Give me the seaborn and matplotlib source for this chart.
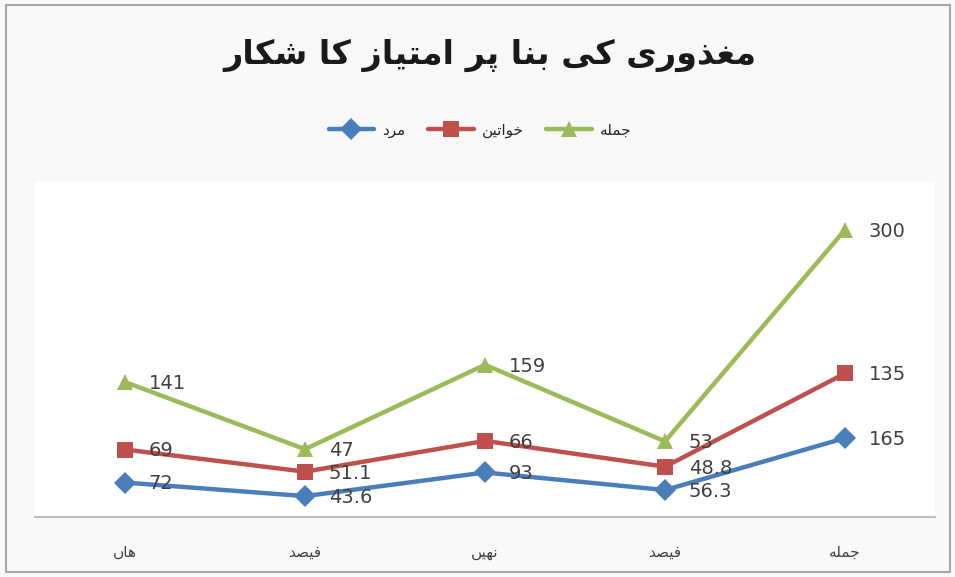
import numpy as np
import pandas as pd
import matplotlib
matplotlib.use("Agg")
import matplotlib.pyplot as plt
from matplotlib.patches import Rectangle
import seaborn as sns

# ---- data -------------------------------------------------------------
categories = ["ہاں", "فیصد", "نہیں", "فیصد", "جملہ"]
series_names = ["مرد", "خواتین", "جملہ"]
men = [72, 43.6, 93, 56.3, 165]
women = [69, 51.1, 66, 48.8, 135]
total = [141, 47, 159, 53, 300]
title = "مغذوری کی بنا پر امتیاز کا شکار"
colors = ["#4A7EBB", "#C0504D", "#9BBB59"]

# ---- Arabic-script shaping (contextual forms + right-to-left order) ----
# (isolated, final, initial, medial); heh goal uses the heh forms,
# which the installed fonts provide.
FORMS = {
    "ا": (0xFE8D, 0xFE8E, None, None),
    "ب": (0xFE8F, 0xFE90, 0xFE91, 0xFE92),
    "ت": (0xFE95, 0xFE96, 0xFE97, 0xFE98),
    "ج": (0xFE9D, 0xFE9E, 0xFE9F, 0xFEA0),
    "خ": (0xFEA5, 0xFEA6, 0xFEA7, 0xFEA8),
    "د": (0xFEA9, 0xFEAA, None, None),
    "ذ": (0xFEAB, 0xFEAC, None, None),
    "ر": (0xFEAD, 0xFEAE, None, None),
    "ز": (0xFEAF, 0xFEB0, None, None),
    "ش": (0xFEB5, 0xFEB6, 0xFEB7, 0xFEB8),
    "ص": (0xFEB9, 0xFEBA, 0xFEBB, 0xFEBC),
    "ع": (0xFEC9, 0xFECA, 0xFECB, 0xFECC),
    "غ": (0xFECD, 0xFECE, 0xFECF, 0xFED0),
    "ف": (0xFED1, 0xFED2, 0xFED3, 0xFED4),
    "ل": (0xFEDD, 0xFEDE, 0xFEDF, 0xFEE0),
    "م": (0xFEE1, 0xFEE2, 0xFEE3, 0xFEE4),
    "ن": (0xFEE5, 0xFEE6, 0xFEE7, 0xFEE8),
    "و": (0xFEED, 0xFEEE, None, None),
    "پ": (0xFB56, 0xFB57, 0xFB58, 0xFB59),
    "ک": (0xFB8E, 0xFB8F, 0xFB90, 0xFB91),
    "ں": (0xFB9E, 0xFB9F, None, None),
    "ہ": (0xFEE9, 0xFEEA, 0xFEEB, 0xFEEC),
    "ی": (0xFBFC, 0xFBFD, 0xFBFE, 0xFBFF),
}


def shape(text):
    out = []
    n = len(text)
    for i, ch in enumerate(text):
        f = FORMS.get(ch)
        if f is None:
            out.append(ch)
            continue
        prev = text[i - 1] if i > 0 else None
        nxt = text[i + 1] if i < n - 1 else None
        jp = prev in FORMS and FORMS[prev][2] is not None
        jn = f[2] is not None and nxt in FORMS
        if jp and jn:
            code = f[3]
        elif jp:
            code = f[1]
        elif jn:
            code = f[2]
        else:
            code = f[0]
        out.append(chr(code))
    return "".join(out)[::-1]


# ---- long-form table with stacked (cumulative) values ---------------
values = np.vstack([men, women, total])
stacked = np.cumsum(values, axis=0)
rows = []
for s, name in enumerate(series_names):
    for i in range(len(categories)):
        rows.append({"pos": i, "value": stacked[s, i], "label": values[s, i],
                     "series": shape(name)})
df = pd.DataFrame(rows)

sns.set_theme(style="white")
plt.rcParams["font.family"] = ["DejaVu Sans"]

fig = plt.figure(figsize=(9.55, 5.77), dpi=100)
fig.patch.set_facecolor("#F8F8F8")
fig.patches.append(Rectangle((6 / 955, 5 / 577), 944 / 955, 567 / 577,
                             transform=fig.transFigure, fill=False,
                             edgecolor="#A6A6A6", linewidth=1.5))

ax = fig.add_axes([35 / 955, 60 / 577, 900 / 955, 335 / 577])
ax.set_facecolor("white")

hue_order = [shape(n) for n in series_names]
sns.lineplot(data=df, x="pos", y="value", hue="series", style="series",
             hue_order=hue_order, style_order=hue_order,
             palette=colors, markers=["D", "s", "^"], dashes=False,
             linewidth=3.2, markersize=11, markeredgewidth=0,
             ax=ax, legend=True)

for s in range(len(series_names)):
    for i in range(len(categories)):
        ax.annotate(f"{values[s, i]:g}", (i, stacked[s, i]),
                    xytext=(17, -1), textcoords="offset points",
                    va="center", ha="left", fontsize=14, color="#404040")

ax.set_xlim(-0.5, 4.5)
ax.set_ylim(0, 700)
ax.set_xticks(range(len(categories)))
ax.set_xticklabels([shape(c) for c in categories], fontsize=11, color="#404040")
ax.tick_params(axis="x", length=0, pad=20)
ax.set_yticks([])
ax.set_xlabel("")
ax.set_ylabel("")
for side in ["left", "right", "top"]:
    ax.spines[side].set_visible(False)
ax.spines["bottom"].set_color("#BFBFBF")
ax.spines["bottom"].set_linewidth(1.5)

handles, labels = ax.get_legend_handles_labels()
ax.get_legend().remove()
fig.legend(handles, labels, loc="center", ncol=3,
           bbox_to_anchor=(480 / 955, 1 - 130 / 577), frameon=False,
           fontsize=11, handlelength=3, columnspacing=1.5, handletextpad=0.5)

fig.text(490 / 955, 1 - 55 / 577, shape(title), ha="center", va="center",
         fontsize=24, fontweight="bold", color="#1A1A1A")

fig.savefig("out.png", dpi=100, facecolor=fig.get_facecolor())
